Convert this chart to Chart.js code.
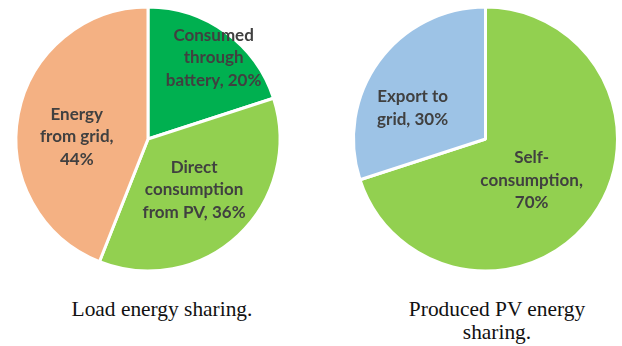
<!DOCTYPE html>
<html>
<head>
<meta charset="utf-8">
<script src="https://cdn.jsdelivr.net/npm/chart.js@4"></script>
<style>
  html, body { margin: 0; padding: 0; background: #fff; }
  #page { position: relative; width: 622px; height: 346px; overflow: hidden; }
  .box { position: absolute; top: 0; height: 278px; }
  .caption {
    position: absolute; top: 298px; width: 300px;
    font-family: "Liberation Serif", "Times New Roman", serif;
    font-size: 21.4px; line-height: 23px; color: #111; text-align: center;
  }
</style>
</head>
<body>
<div id="page">
  <div class="box" style="left:0; width:296px;"><canvas id="loadChart"></canvas></div>
  <div class="box" style="left:336px; width:299px;"><canvas id="pvChart"></canvas></div>
  <div class="caption" style="left:12px;">Load energy sharing.</div>
  <div class="caption" style="left:347px;">Produced PV energy<br>sharing.</div>
</div>
<script>
// Load side: where the consumed energy comes from
var loadCategories = ["Consumed through battery", "Direct consumption from PV", "Energy from grid"];
var loadShares = [20, 36, 44];
var loadColors = ["#00b050", "#92d050", "#f4b183"];

// PV side: where the produced energy goes
var pvCategories = ["Self-consumption", "Export to grid"];
var pvShares = [70, 30];
var pvColors = ["#92d050", "#9dc3e6"];

// greedy word wrap, also allowed to break right after a hyphen
function wrapText(ctx, text, maxWidth) {
    var tokens = text.replace(/-/g, "-\u0000").split(/ |\u0000/);
    var lines = [];
    var line = "";
    tokens.forEach(function (tok) {
        if (tok === "") return;
        var joiner = line === "" || line.slice(-1) === "-" ? "" : " ";
        var test = line + joiner + tok;
        if (line !== "" && ctx.measureText(test).width > maxWidth) {
            lines.push(line);
            line = tok;
        } else {
            line = test;
        }
    });
    if (line) lines.push(line);
    return lines;
}

var sliceLabels = {
    id: "sliceLabels",
    afterDatasetsDraw: function (chart, args, opts) {
        var ctx = chart.ctx;
        var meta = chart.getDatasetMeta(0);
        var cats = chart.data.labels;
        var values = chart.data.datasets[0].data;
        ctx.save();
        ctx.font = opts.font;
        ctx.fillStyle = opts.color;
        ctx.textAlign = "center";
        ctx.textBaseline = "middle";
        meta.data.forEach(function (arc, i) {
            var p = arc.getProps(["x", "y", "startAngle", "endAngle", "outerRadius"], true);
            var place = opts.place[i];
            var mid = (p.startAngle + p.endAngle) / 2 + place.shift * Math.PI / 180;
            var r = p.outerRadius * place.frac;
            var cx = p.x + Math.cos(mid) * r;
            var cy = p.y + Math.sin(mid) * r;
            var lines = wrapText(ctx, cats[i] + ", " + values[i] + "%", place.width);
            var top = cy - (lines.length - 1) * opts.lineHeight / 2;
            lines.forEach(function (ln, k) {
                ctx.fillText(ln, cx, top + k * opts.lineHeight);
            });
        });
        ctx.restore();
    }
};

function makePie(id, labels, data, colors, place) {
    return new Chart(document.getElementById(id), {
        type: "pie",
        data: {
            labels: labels,
            datasets: [{
                data: data,
                backgroundColor: colors,
                borderColor: "#ffffff",
                borderWidth: 3,
                radius: 132
            }]
        },
        options: {
            responsive: true,
            maintainAspectRatio: false,
            animation: false,
            layout: { padding: 0 },
            plugins: {
                legend: { display: false },
                tooltip: { enabled: false },
                sliceLabels: {
                    font: "bold 17px Lato",
                    color: "#404040",
                    lineHeight: 22.5,
                    place: place
                }
            }
        },
        plugins: [sliceLabels]
    });
}

makePie("loadChart", loadCategories, loadShares, loadColors, [
    { frac: 0.79, shift: 3, width: 110 },
    { frac: 0.52, shift: 1, width: 112 },
    { frac: 0.54, shift: -9, width: 88 }
]);
makePie("pvChart", pvCategories, pvShares, pvColors, [
    { frac: 0.47, shift: 6, width: 110 },
    { frac: 0.60, shift: -13, width: 92 }
]);
</script>
</body>
</html>
